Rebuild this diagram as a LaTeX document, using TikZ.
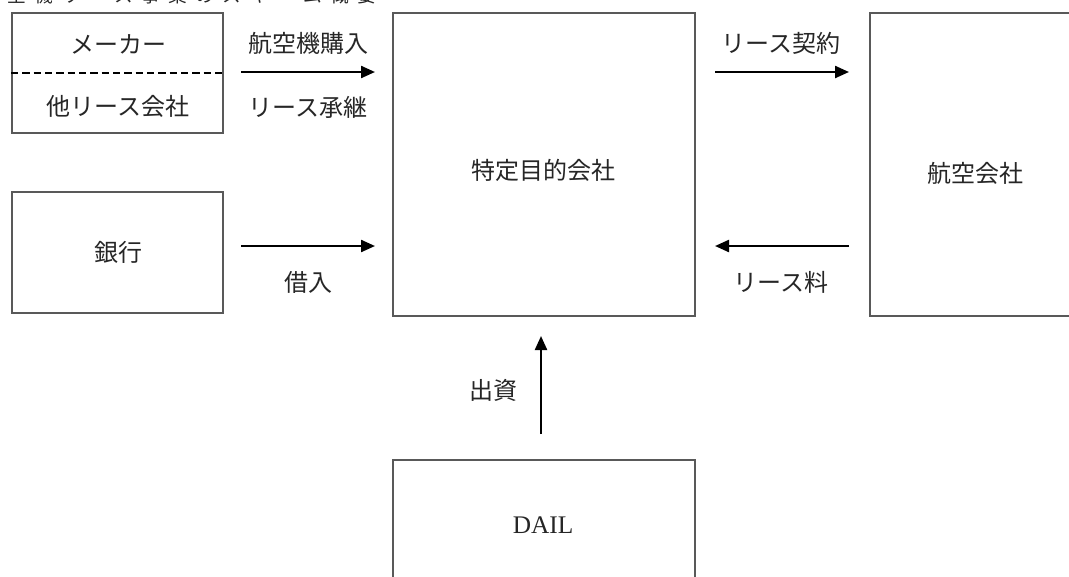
\documentclass[tikz,border=0pt]{standalone}
\usepackage{fontspec}
\setmainfont{Noto Sans CJK JP}
\newfontfamily\latinfont{Liberation Serif}
\newfontfamily\titlefont[LetterSpace=45]{Noto Sans CJK JP}
\usetikzlibrary{arrows.meta}
\tikzset{
  box/.style={draw=black!65, line width=1.4pt, fill=white, inner sep=0pt},
  arr/.style={line width=1.7pt, black, -{Triangle[length=10.5pt,width=9pt]}},
  lbl/.style={font=\fontsize{18}{20}\selectfont, text=black!85, inner sep=0pt},
}
\begin{document}
\begin{tikzpicture}[x=0.75pt,y=-0.75pt]
\path[use as bounding box] (0,0) rectangle (1069,576);
\clip (0,0) rectangle (1069,576);

% title (cut off at top, as in the reference)
\node[anchor=base west, inner sep=0pt, font=\titlefont\fontsize{14}{16}\selectfont, text=black!85] (title) at (-20,2) {航空機リース事業のスキーム概要};

% boxes
\node[box, minimum width=211*0.75pt, minimum height=120*0.75pt] (maker) at (117.5,73) {};
\node[box, minimum width=211*0.75pt, minimum height=121*0.75pt] (bank) at (117.5,252.5) {};
\node[box, minimum width=302*0.75pt, minimum height=303*0.75pt] (spc) at (544,164.5) {};
\node[box, minimum width=220*0.75pt, minimum height=303*0.75pt] (air) at (980,164.5) {};
\node[box, minimum width=302*0.75pt, minimum height=140*0.75pt] (dail) at (544,530) {};

% dashed divider
\draw[black, line width=1.3pt, dash pattern=on 5.5pt off 3pt] (maker.west) -- (maker.east);

% box texts
\node[lbl] (tmaker) at (118,44) {メーカー};
\node[lbl] (tother) at (118,106) {他リース会社};
\node[lbl] (tbank) at (118,252) {銀行};
\node[lbl] (tspc) at (543,170) {特定目的会社};
\node[lbl] (tair) at (975,173) {航空会社};
\node[lbl, font=\latinfont\fontsize{19}{21}\selectfont] (tdail) at (543,525) {DAIL};

% arrow end points
\coordinate (a1s) at (241,72);  \coordinate (a1e) at (375,72);
\coordinate (a2s) at (241,246); \coordinate (a2e) at (375,246);
\coordinate (a3s) at (715,72);  \coordinate (a3e) at (849,72);
\coordinate (a4s) at (849,246); \coordinate (a4e) at (715,246);
\coordinate (a5s) at (541,434); \coordinate (a5e) at (541,336);

\draw[arr] (a1s) -- (a1e);
\draw[arr] (a2s) -- (a2e);
\draw[arr] (a3s) -- (a3e);
\draw[arr] (a4s) -- (a4e);
\draw[arr] (a5s) -- (a5e);

% arrow labels
\node[lbl] (l1) at (308,43) {航空機購入};
\node[lbl] (l2) at (308,107) {リース承継};
\node[lbl] (l3) at (308,282) {借入};
\node[lbl] (l4) at (781,43) {リース契約};
\node[lbl] (l5) at (781,282) {リース料};
\node[lbl] (l6) at (493,390) {出資};
\end{tikzpicture}
\end{document}
